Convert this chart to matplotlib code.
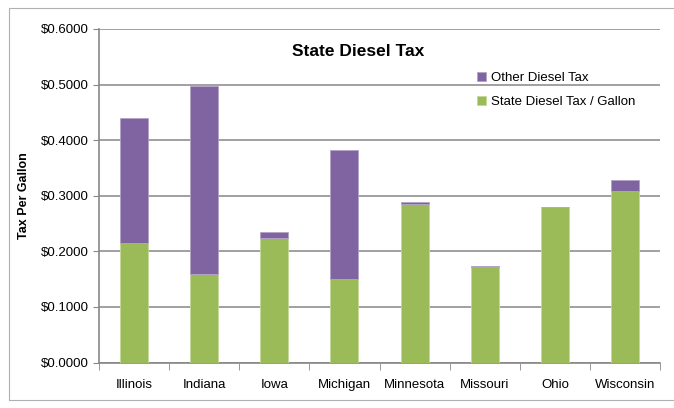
import matplotlib as mpl
mpl.use('Agg')
import matplotlib.pyplot as plt
import numpy as np
from matplotlib.patches import Rectangle
from matplotlib.ticker import FuncFormatter

states = ['Illinois', 'Indiana', 'Iowa', 'Michigan', 'Minnesota', 'Missouri', 'Ohio', 'Wisconsin']
state_tax = [0.215, 0.160, 0.224, 0.151, 0.286, 0.171, 0.280, 0.309]
other_tax = [0.224, 0.338, 0.010, 0.232, 0.002, 0.003, 0.000, 0.020]

plt.rcParams['font.family'] = ['Liberation Sans', 'DejaVu Sans']

fig = plt.figure(figsize=(6.74, 4.08), dpi=100)
ax = fig.add_axes([99 / 674, 1 - 362.5 / 408, 561 / 674, 333.5 / 408])

# outer chart border
fig.patches.append(Rectangle((9 / 674, 8 / 408), 670 / 674, 392 / 408, transform=fig.transFigure,
                             fill=False, edgecolor='#b0b0b0', linewidth=0.8))

x = np.arange(len(states))
green = '#9bbb59'
purple = '#8064a2'
ax.bar(x, state_tax, 0.4, color=green, edgecolor='#c4d99a', linewidth=0.6,
       label='State Diesel Tax / Gallon', zorder=3)
ax.bar(x, other_tax, 0.4, bottom=state_tax, color=purple, edgecolor='#b3a2c7', linewidth=0.6,
       label='Other Diesel Tax', zorder=3)

ax.set_xlim(-0.5, len(states) - 0.5)
ax.set_ylim(0, 0.6)
ax.set_yticks(np.arange(0, 0.61, 0.1))
ax.yaxis.set_major_formatter(FuncFormatter(lambda v, p: '$%.4f' % v))
ax.yaxis.grid(True, color='#999999', linewidth=1.3, zorder=0)
ax.set_axisbelow(True)

ax.set_xticks(x)
ax.set_xticklabels(states)
ax.set_xticks(np.arange(-0.5, len(states)), minor=True)
ax.tick_params(axis='x', which='major', length=0, pad=12, labelsize=9.5)
ax.tick_params(axis='x', which='minor', length=5, color='#888888', direction='out')
ax.tick_params(axis='y', length=4, color='#888888', labelsize=9.5, pad=3)

for s in ['top', 'right']:
    ax.spines[s].set_visible(False)
for s in ['left', 'bottom']:
    ax.spines[s].set_color('#888888')
    ax.spines[s].set_linewidth(1.2)

ax.set_ylabel('Tax Per Gallon', fontsize=9, fontweight='bold', labelpad=8)

fig.text(358 / 674, 1 - 52 / 408, 'State Diesel Tax', ha='center', va='center',
         fontsize=12.5, fontweight='bold')

handles, labels = ax.get_legend_handles_labels()
ax.legend(handles[::-1], labels[::-1], loc='upper left', bbox_to_anchor=(465 / 674, 1 - 60 / 408),
          bbox_transform=fig.transFigure, frameon=False, fontsize=9.5,
          handlelength=0.7, handleheight=0.7, handletextpad=0.4, labelspacing=0.9)

fig.savefig('out.png', dpi=100)
